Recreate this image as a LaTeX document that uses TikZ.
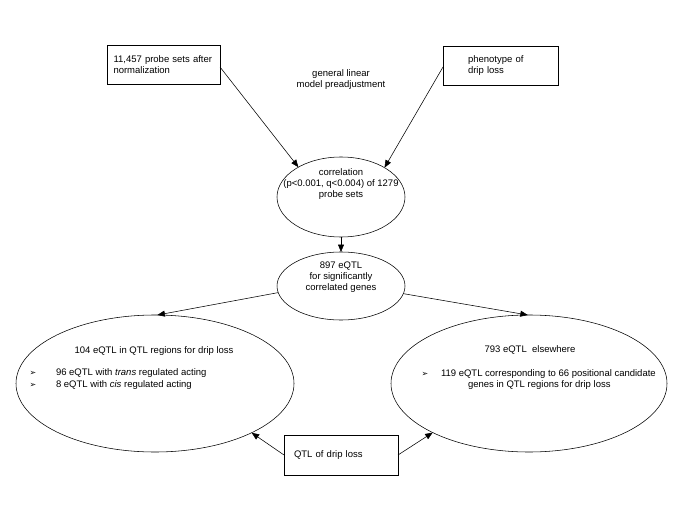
\documentclass[tikz,border=0pt]{standalone}
\usepackage{fontspec}
\setmainfont{Liberation Sans}
\newfontfamily\dejavu{DejaVu Sans}
\usetikzlibrary{arrows.meta,shapes.geometric}
\begin{document}
\begin{tikzpicture}[x=1pt,y=-1pt,
  every node/.style={font=\fontsize{9.5}{11.3}\selectfont, inner sep=0pt, outer sep=0pt},
  box/.style={draw, line width=0.55pt, rectangle},
  ell/.style={draw, ellipse, line width=0.55pt},
  arr/.style={-{Triangle[length=7.5pt,width=6pt]}, line width=0.55pt},
  mk/.style={font=\dejavu\fontsize{8}{9}\selectfont}]
\useasboundingbox[fill=white] (0,0) rectangle (685,513);

% boxes
\node[box, minimum width=113pt, minimum height=39pt, text width=100pt, inner xsep=6.5pt, align=left]
  (b1) at (163.5,64.5) {11,457 probe sets after\\normalization};
\node[box, minimum width=115pt, minimum height=39pt, text width=65pt, inner xsep=25pt, align=left]
  (b2) at (500.5,65.5) {phenotype of\\drip loss};
\node[align=center] (note) at (341,79.5) {general linear\\model preadjustment};

% ellipses
\node[ell, minimum width=128pt, minimum height=80pt] (corr) at (341,197) {};
\node[align=center] (corrt) at (341,184) {correlation\\(p<0.001, q<0.004) of 1279\\probe sets};
\node[ell, minimum width=128pt, minimum height=68pt] (eqtl) at (341,286) {};
\node[align=center] (eqtlt) at (341,277) {897 eQTL\\for significantly\\correlated genes};

\node[ell, minimum width=278pt, minimum height=137pt] (left) at (155,383.5) {};
\node (lt) at (154,351) {104 eQTL in QTL regions for drip loss};
\node[mk] (lm1) at (33,373) {➢};
\node[anchor=west] (l1) at (56,373) {96 eQTL with \textit{trans} regulated acting};
\node[mk] (lm2) at (33,385) {➢};
\node[anchor=west] (l2) at (56,385) {8 eQTL with \textit{cis} regulated acting};

\node[ell, minimum width=276pt, minimum height=137pt] (right) at (529,383.5) {};
\node (rt) at (530,350) {793 eQTL\ \ elsewhere};
\node[mk] (rm1) at (425,374) {➢};
\node[anchor=west] (r1) at (441,374) {119 eQTL corresponding to 66 positional candidate};
\node[anchor=west] (r2) at (468,385) {genes in QTL regions for drip loss};

\node[box, minimum width=114pt, minimum height=40pt, text width=104pt, inner xsep=5pt, align=left]
  (qtl) at (341,455) {\hspace*{5pt}QTL of drip loss};

% connectors
\draw[arr] ([yshift=-2.5pt]b1.east) -- (corr.145);
\draw[arr] ([yshift=-1.5pt]b2.west) -- (corr.34);
\draw[arr] (corr.south) -- (eqtl.north);
\draw[arr] (eqtl.186) -- (left.88);
\draw[arr] (eqtl.353) -- (right.91);
\draw[arr] (qtl.west) -- (left.333);
\draw[arr] (qtl.east) -- (right.207);
\end{tikzpicture}
\end{document}
